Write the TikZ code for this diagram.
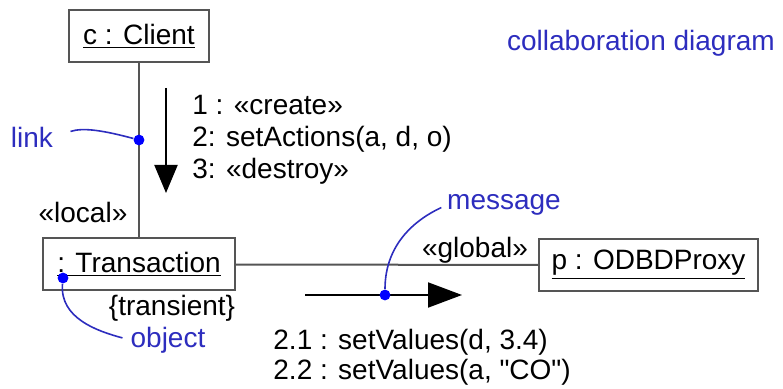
\documentclass[tikz,border=0pt]{standalone}
\usepackage{fontspec}
\setmainfont{Liberation Sans}
\newfontfamily\plainsans{Liberation Sans}
\usetikzlibrary{arrows.meta, positioning}
\newcommand{\uml}{\fontsize{14}{16}\selectfont}
\definecolor{umlblue}{RGB}{45,45,190}
\definecolor{umlline}{RGB}{85,85,85}
\tikzstyle{obj} = [rectangle, draw=umlline, line width=1pt, minimum height=26pt,
    inner sep=0pt, font=\uml]
\tikzstyle{lbl} = [font=\uml, inner sep=0pt]
\tikzstyle{note} = [font=\uml, text=umlblue, inner sep=0pt]
\tikzstyle{dot} = [circle, fill=blue, inner sep=0pt, minimum size=5.4pt]
\tikzstyle{link} = [draw=umlline, line width=1pt]
\tikzstyle{msg} = [line width=1pt, -{Triangle[length=14pt, width=11.5pt]}]
\tikzstyle{pointer} = [draw=umlblue, line width=0.8pt]

\begin{document}
\begin{tikzpicture}[x=0.5pt, y=-0.5pt]
\useasboundingbox (0,0) rectangle (783,389);

% objects
\node (client) [obj, minimum width=70pt] at (139,36) {\underline{c : Client}};
\node (trans) [obj, minimum width=96pt] at (139,264.5) {\underline{: Transaction}};
\node (proxy) [obj, minimum width=109.5pt] at (648.5,265) {\underline{p : ODBDProxy}};

% links
\draw[link] (client) -- (trans);
\draw[link] (trans) -- (proxy);

% labels on the links
\node (local) [lbl] at (83,212) {«local»};
\node (global) [lbl] at (475,250) {«global»};
\node (transient) [lbl] at (172,308) {\{transient\}};

% messages
\coordinate (downA) at (166,88);
\coordinate (downB) at (166,193);
\draw[msg] (downA) -- (downB);
\node (msgsA) [lbl, anchor=west, align=left] at (192,140)
    {1 : «create»\\2: setActions(a, d, o)\\3: «destroy»};
\coordinate (rightA) at (305,295);
\coordinate (rightB) at (462,295);
\draw[msg, -{Triangle[length=17pt, width=12.5pt]}] (rightA) -- (rightB);
\node (msgsB) [lbl, anchor=west, align=left, font=\plainsans\fontsize{14}{15}\selectfont] at (273,357)
    {2.1 : setValues(d, 3.4)\\2.2 : setValues(a, "CO")};

% notes
\node (title) [note] at (641,43) {collaboration diagram};
\node (linklbl) [note] at (32,137) {link};
\node (objlbl) [note] at (168,340) {object};
\node (msglbl) [note] at (504,205) {message};

\node (linkdot) [dot] at (139,140) {};
\node (objdot) [dot] at (63,278) {};
\node (msgdot) [dot] at (385,295) {};

\draw[pointer, shorten <=9pt] (linklbl.east) to[out=18, in=165] (linkdot);
\draw[pointer, shorten >=4pt] (objdot) to[out=-95, in=165] (objlbl.west);
\draw[pointer, shorten >=3pt] (msgdot) to[out=90, in=205] (msglbl.west);
\end{tikzpicture}
\end{document}
